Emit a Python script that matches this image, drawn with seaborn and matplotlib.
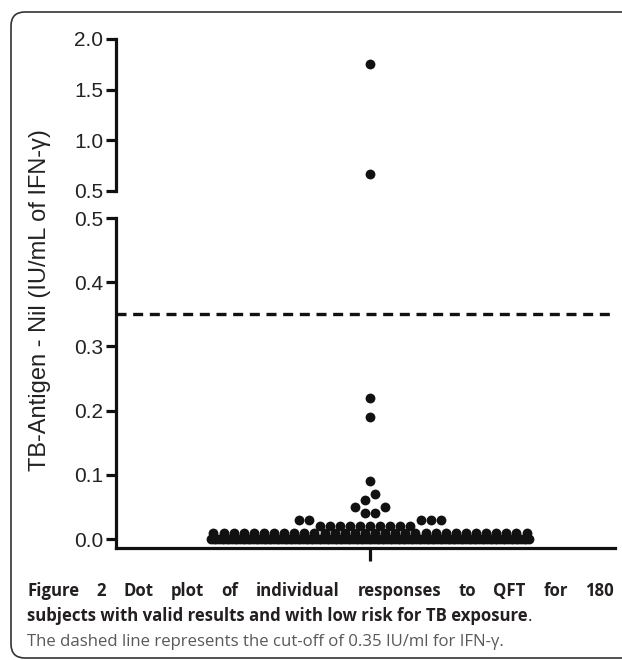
import numpy as np
import pandas as pd
import seaborn as sns
import matplotlib.pyplot as plt
from matplotlib.patches import FancyBboxPatch

# QFT responses (TB-Antigen - Nil, IU/mL) and how many subjects had each value
values = [0.00, 0.01, 0.02, 0.03, 0.04, 0.05, 0.06, 0.07, 0.09, 0.19, 0.22, 0.67, 1.75]
counts = [122, 32, 10, 5, 2, 2, 1, 1, 1, 1, 1, 1, 1]
cutoff = 0.35
upper_ticks = [0.5, 1.0, 1.5, 2.0]
lower_ticks = [0.0, 0.1, 0.2, 0.3, 0.4, 0.5]
ylabel = 'TB-Antigen - Nil (IU/mL of IFN-γ)'
caption_1 = 'Figure 2 Dot plot of individual responses to QFT for 180'
caption_2 = 'subjects with valid results and with low risk for TB exposure'
caption_3 = 'The dashed line represents the cut-off of 0.35 IU/ml for IFN-γ.'

DOT_STEP = 10.1   # spacing of dots in a row (x units ~ pixels)
ROW_MAX = 318     # widest row


def row_key(v):
    # zeros and 0.01 get their own rows, the rest is binned by 0.02 like GraphPad
    if v < 0.015:
        return int(round(v * 100)) - 10
    return int(np.floor((v + 0.005) / 0.02))


# lay out the dot plot: one row per bin, larger values at the outer ends
ys = np.repeat(values, counts)
df = pd.DataFrame({'y': ys})
df['row'] = df['y'].apply(row_key)
df['x'] = 0.0
for key, grp in df.groupby('row'):
    n = len(grp)
    step = DOT_STEP if n < 2 else min(DOT_STEP, ROW_MAX / (n - 1))
    slots = (np.arange(n) - (n - 1) / 2) * step
    order = []
    lo, hi = 0, n - 1
    while lo <= hi:
        order.append(hi)
        if lo != hi:
            order.append(lo)
        hi -= 1
        lo += 1
    idx = grp.sort_values('y', ascending=False).index
    df.loc[idx, 'x'] = slots[order]

sns.set_style('ticks')
plt.rcParams['font.family'] = ['Liberation Sans', 'DejaVu Sans']

W, H = 622, 660
fig = plt.figure(figsize=(W / 100, H / 100), dpi=100)

left, right = 116 / W, 615 / W
ax_top = fig.add_axes([left, 1 - 191 / H, right - left, 152 / H])
ax_bot = fig.add_axes([left, 1 - 548 / H, right - left, 330 / H])

for ax in (ax_top, ax_bot):
    sns.scatterplot(data=df, x='x', y='y', ax=ax, color='#111111', s=50,
                    linewidth=0, legend=False)
    ax.set_xlim(-254, 245)
    ax.set_xlabel('')
    ax.set_ylabel('')
    for side in ('top', 'right'):
        ax.spines[side].set_visible(False)
    ax.spines['left'].set_linewidth(2.3)
    ax.spines['left'].set_color('#111111')
    ax.tick_params(axis='y', length=7.2, width=2.3, labelsize=15, pad=2,
                   color='#111111', labelcolor='#222222')

ax_top.set_ylim(0.5, 2.0)
ax_top.set_yticks(upper_ticks)
ax_top.set_yticklabels([f'{t:.1f}' for t in upper_ticks])
ax_top.spines['bottom'].set_visible(False)
ax_top.set_xticks([])

ax_bot.set_ylim(-0.014, 0.5)
ax_bot.set_yticks(lower_ticks)
ax_bot.set_yticklabels([f'{t:.1f}' for t in lower_ticks])
ax_bot.spines['bottom'].set_linewidth(2.3)
ax_bot.spines['bottom'].set_color('#111111')
ax_bot.set_xticks([0])
ax_bot.set_xticklabels([''])
ax_bot.tick_params(axis='x', length=9, width=2.3, color='#111111')
ax_bot.axhline(cutoff, color='#111111', lw=2.4, ls=(0, (3, 2)))

fig.text(40 / W, 1 - 300 / H, ylabel, rotation=90, ha='center', va='center',
         fontsize=17, color='#222222')

# rounded frame around figure and caption
frame = FancyBboxPatch((0.11, 0.02), 6.6, 6.46, boxstyle='round,pad=0,rounding_size=0.14',
                       transform=fig.dpi_scale_trans, fill=False, lw=1.2,
                       edgecolor='#333333')
fig.patches.append(frame)

# caption
cap = dict(family=['Open Sans', 'DejaVu Sans'], fontsize=12.1, va='baseline')
renderer = fig.canvas.get_renderer()
x0, x1 = 27 / W, 614 / W
words = caption_1.split(' ')
texts = [fig.text(0, 1 - 596 / H, w, weight='bold', color='#231f20', **cap) for w in words]
widths = [t.get_window_extent(renderer).width / W for t in texts]
gap = (x1 - x0 - sum(widths)) / (len(words) - 1)
pos = x0
for t, w in zip(texts, widths):
    t.set_x(pos)
    pos += w + gap

t2 = fig.text(x0, 1 - 621 / H, caption_2, weight='bold', color='#231f20', **cap)
w2 = t2.get_window_extent(renderer).width / W
fig.text(x0 + w2, 1 - 621 / H, '.', color='#231f20', **cap)
fig.text(x0, 1 - 646 / H, caption_3, color='#58595b', **cap)

fig.savefig('out.png', dpi=100)
